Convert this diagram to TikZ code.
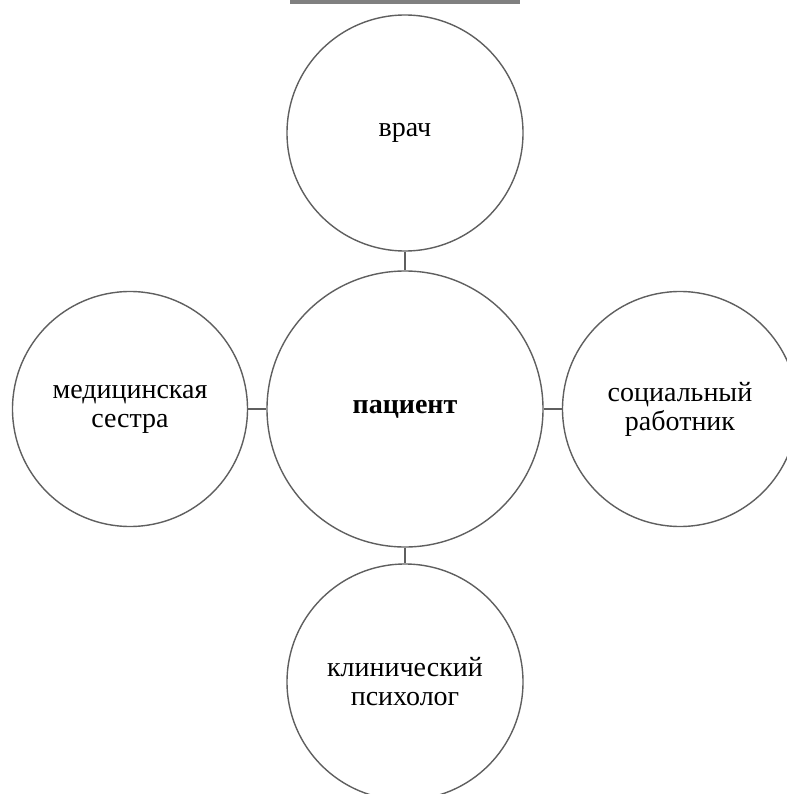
\documentclass[tikz,border=0pt]{standalone}
\usepackage{fontspec}
\setmainfont{Liberation Serif}
\usepackage{tikz}
\usetikzlibrary{shapes, positioning}
\definecolor{ringgray}{RGB}{95, 95, 95}
\definecolor{bargray}{RGB}{128, 128, 128}

\tikzset{
  role/.style={circle, draw=ringgray, line width=1.4pt, inner sep=0pt, align=center,
    font=\fontsize{28}{29}\selectfont},
  link/.style={draw=ringgray, line width=1.4pt}
}

\begin{document}
\begin{tikzpicture}[x=1pt, y=-1pt]
  \useasboundingbox (0, 0) rectangle (786, 794);

  % Cropped heading rule
  \fill[bargray] (290, 0) rectangle (520, 4);

  % Centre
  \node[role, minimum size=276pt, font=\fontsize{28}{29}\selectfont\bfseries] (patient) at (405, 409) {пациент};

  % Surrounding roles
  \node[role, minimum size=236pt] (doctor) at (405, 133) {врач};
  \node[role, minimum size=235pt] (nurse) at (130, 409) {медицинская\\сестра};
  \node[role, minimum size=235pt] (social) at (680, 409) {социальный\\работник};
  \node[role, minimum size=236pt] (psych) at (405, 682) {клинический\\психолог};

  % Links
  \draw[link] (doctor.south) -- (patient.north);
  \draw[link] (nurse.east) -- (patient.west);
  \draw[link] (patient.east) -- (social.west);
  \draw[link] (patient.south) -- (psych.north);
\end{tikzpicture}
\end{document}
